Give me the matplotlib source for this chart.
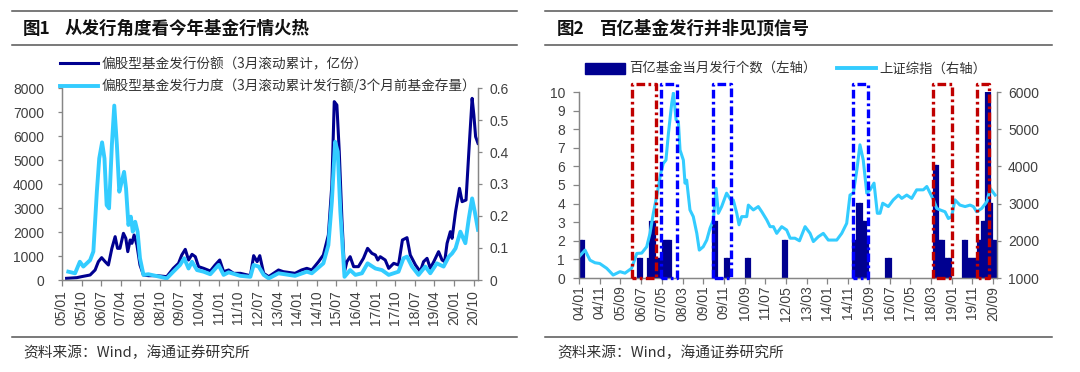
import matplotlib
matplotlib.use("Agg")
import matplotlib.pyplot as plt
from matplotlib.lines import Line2D
from matplotlib.patches import Patch
import numpy as np

# ---------------- data: figure 1 (months since 2005-01) ----------------
share_month = [2.1, 6.8, 9.0, 12.9, 15.2, 16.7, 18.2, 19.8, 21.3, 22.9, 24.4, 25.5, 26.6, 28.2, 29.3,
               30.2, 31.3, 32.1, 33.1, 34.4, 35.8, 37.4, 39.7, 43.6, 48.1, 51.1, 53.5, 55.0, 56.6, 58.1,
               59.7, 61.2, 62.7, 65.0, 68.1, 70.3, 72.4, 74.2, 76.5, 78.8, 81.9, 86.5, 88.0, 89.6, 90.8,
               92.6, 94.9, 99.4, 101.6, 107.0, 110.0, 112.4, 114.7, 117.8, 120.0, 122.3, 123.9, 125.0,
               126.2, 127.3, 128.5, 129.7, 130.8, 132.3, 133.9, 136.1, 138.4, 140.3, 142.3, 143.9, 145.0,
               146.1, 148.4, 150.0, 152.3, 154.5, 156.3, 158.4, 159.9, 162.3, 164.5, 166.0, 167.6, 169.1,
               170.7, 172.9, 174.5, 175.7, 176.8, 178.3, 179.1, 180.7, 182.5, 183.7, 185.5, 186.8, 188.3,
               189.1, 189.9, 191.0]
share_value = [70, 97, 140, 208, 417, 764, 931, 764, 625, 1319, 1806, 1319, 1319, 1944, 1736,
               1181, 1667, 1528, 1875, 1458, 625, 208, 180, 180, 140, 486, 694, 1042, 1278, 833,
               1069, 972, 556, 486, 375, 625, 833, 347, 417, 278, 278, 180, 1014, 764, 1014,
               278, 140, 417, 347, 278, 417, 486, 417, 764, 1042, 1875, 3958, 7431,
               7292, 5347, 2569, 347, 764, 972, 556, 556, 903, 1319, 1111, 1042, 833,
               972, 833, 486, 694, 625, 1667, 1764, 1042, 625, 347, 764, 903, 486,
               764, 1181, 833, 764, 1528, 2014, 1736, 2847, 3819, 3264, 3333, 5347, 7569,
               6875, 5972, 5694]

ratio_month = [2.9, 6.0, 8.2, 9.8, 12.9, 14.4, 16.0, 17.1, 18.4, 19.5, 20.5, 21.6, 22.9, 24.0, 25.2,
               26.3, 27.4, 28.5, 29.4, 30.5, 31.6, 32.5, 33.6, 34.7, 35.8, 37.4, 39.7, 45.0, 48.1,
               51.1, 54.2, 56.1, 58.1, 59.7, 62.0, 65.0, 68.1, 71.9, 74.2, 76.5, 81.9, 86.5, 88.0,
               90.3, 92.6, 94.9, 99.4, 107.0, 112.4, 114.7, 120.0, 122.3, 123.9, 125.4, 126.6, 127.8,
               129.7, 132.3, 134.7, 137.7, 140.3, 143.9, 146.9, 150.0, 154.5, 156.8, 158.4, 160.7,
               163.7, 166.8, 169.1, 172.1, 175.2, 177.6, 179.1, 180.7, 182.9, 185.2, 186.8, 188.3,
               189.5, 191.0]
ratio_value = [0.026, 0.021, 0.057, 0.042, 0.062, 0.089, 0.276, 0.380, 0.430, 0.380, 0.234, 0.224, 0.422,
               0.545, 0.422, 0.276, 0.307, 0.338, 0.286, 0.172, 0.198, 0.151, 0.182, 0.151, 0.068, 0.016,
               0.018, 0.010, 0.005, 0.026, 0.047, 0.068, 0.036, 0.057, 0.031, 0.026, 0.018, 0.047, 0.016,
               0.024, 0.013, 0.010, 0.047, 0.042, 0.016, 0.005, 0.021, 0.013, 0.026, 0.021, 0.052, 0.109,
               0.245, 0.432, 0.401, 0.214, 0.010, 0.031, 0.016, 0.021, 0.052, 0.036, 0.031, 0.016, 0.026,
               0.068, 0.073, 0.042, 0.016, 0.042, 0.021, 0.052, 0.042, 0.073, 0.083, 0.099, 0.151, 0.115,
               0.193, 0.255, 0.214, 0.157]

fig1_xticklabels = ["05/01", "05/10", "06/07", "07/04", "08/01", "08/10", "09/07", "10/04", "11/01",
                    "11/10", "12/07", "13/04", "14/01", "14/10", "15/07", "16/04", "17/01", "17/10",
                    "18/07", "19/04", "20/01", "20/10"]
fig1_label_share = "偏股型基金发行份额（3月滚动累计，亿份）"
fig1_label_ratio = "偏股型基金发行力度（3月滚动累计发行额/3个月前基金存量）"

# ---------------- data: figure 2 (months since 2004-01) ----------------
bar_month = [1, 2, 29, 30, 34, 35, 36, 38, 39, 41, 42, 43, 44, 65, 66, 71, 72, 81, 82, 99, 100,
             133, 134, 135, 136, 137, 138, 139, 149, 150, 172, 173, 174, 175, 176, 177, 178, 179,
             186, 187, 188, 189, 190, 191, 192, 193, 194, 195, 196, 197, 198, 199, 200, 201]
bar_count = [2, 2, 1, 1, 1, 3, 3, 1, 1, 2, 2, 2, 2, 3, 3, 1, 1, 1, 1, 2, 2,
             2, 2, 4, 4, 3, 3, 2, 1, 1, 6, 6, 2, 2, 2, 1, 1, 1,
             2, 2, 1, 1, 1, 1, 1, 2, 2, 3, 3, 10, 10, 4, 2, 2]

sh_month = [0, 2.9, 5.3, 7.7, 10, 13.4, 16.5, 19.8, 22.2, 25.4, 27.9, 30.3, 32.7, 34.3, 35.9, 37.5,
            39.5, 40.7, 42, 43.2, 44.8, 45.6, 46.9, 48, 48.8, 50.4, 51.2, 52, 53.6, 55.2, 56.9, 58.1,
            60, 61.7, 63.3, 64.9, 66.2, 67.3, 68.9, 71.3, 73.3, 74.5, 76.2, 77.3, 78.6, 81, 81.8,
            84.2, 86.6, 88.3, 90.7, 92.3, 93.9, 95.5, 97.9, 100.3, 102, 104.3, 106.5, 109.2, 111.6,
            113.2, 115.6, 118, 120.4, 124.5, 126.9, 129.3, 130.9, 132.5, 134.2, 135.7, 137.3, 139,
            140.6, 142.5, 144.1, 145.4, 146.7, 149.4, 151.8, 154.3, 155.9, 158.3, 160.7, 163.1,
            166.3, 168, 169.6, 171.2, 172.8, 174.4, 176.8, 178.4, 180, 181.6, 184, 186.5, 188.9,
            190.5, 192.1, 194.5, 197, 198.6, 201]
sh_value = [1570, 1750, 1480, 1410, 1390, 1260, 1080, 1170, 1130, 1260, 1660, 1670, 1840, 2200, 2740,
            3190, 3820, 4080, 4170, 4890, 5700, 5970, 5250, 5200, 4440, 4170, 3550, 3630, 2830, 2650,
            2200, 1750, 1840, 2020, 2340, 2560, 3410, 2740, 2920, 3280, 3100, 3100, 2740, 2430, 2650,
            2650, 2960, 2830, 2920, 2780, 2560, 2380, 2380, 2200, 2380, 2290, 2070, 2070, 2000, 2380,
            2200, 1980, 2110, 2200, 2020, 2020, 2200, 2470, 3230, 3280, 3900, 4580, 4170, 3280, 3370,
            3550, 2740, 2740, 3010, 2920, 3100, 3230, 3140, 3230, 3140, 3370, 3370, 3460, 3280, 3100,
            2870, 2830, 2780, 2600, 2650, 3100, 2960, 2920, 2960, 2920, 2780, 2870, 3050, 3410, 3230]

fig2_xticklabels = ["04/01", "04/11", "05/09", "06/07", "07/05", "08/03", "09/01", "09/11", "10/09",
                    "11/07", "12/05", "13/03", "14/01", "14/11", "15/09", "16/07", "17/05", "18/03",
                    "19/01", "19/11", "20/09"]
red_box_start = [25.6, 171.0, 192.3]
red_box_end = [37.2, 180.0, 198.0]
blue_box_start = [39.6, 64.7, 132.4]
blue_box_end = [47.3, 73.4, 139.6]
box_top = 10.43
fig2_label_bar = "百亿基金当月发行个数（左轴）"
fig2_label_line = "上证综指（右轴）"

# ---------------- styling ----------------
NAVY = "#000090"
SKY = "#33CCFF"
RED = "#C00000"
BLUE = "#0000FF"
SPINE = "#868686"
TXT = "#404040"
CJK = ["Noto Sans CJK SC", "DejaVu Sans"]
LAT = ["Liberation Sans", "DejaVu Sans"]

W, H = 1080, 372
fig = plt.figure(figsize=(W / 100, H / 100), dpi=100)


def fx(px):
    return px / W


def fy(py):
    return 1 - py / H


def style_axes(ax, axr):
    for a in (ax, axr):
        a.spines["top"].set_visible(False)
        for s in ("left", "right", "bottom"):
            a.spines[s].set_color(SPINE)
            a.spines[s].set_linewidth(0.9)
        a.set_facecolor("none")
    for lab in ax.get_xticklabels() + ax.get_yticklabels() + axr.get_yticklabels():
        lab.set_fontfamily(LAT)
        lab.set_fontsize(10)
        lab.set_color(TXT)


# ---------- figure 1 ----------
ax1 = fig.add_axes([fx(62), fy(280), fx(478 - 62), (280 - 88) / H])
ax1r = ax1.twinx()
ax1.plot(share_month, share_value, color=NAVY, lw=2.2, solid_joinstyle="round")
ax1r.plot(ratio_month, ratio_value, color=SKY, lw=2.8, solid_joinstyle="round")
ax1.set_xlim(0, 191)
ax1.set_ylim(0, 8000)
ax1r.set_ylim(0, 0.6)
ax1.set_yticks(np.arange(0, 8001, 1000))
ax1r.set_yticks(np.arange(0, 0.61, 0.1))
ax1r.set_yticklabels(["0", "0.1", "0.2", "0.3", "0.4", "0.5", "0.6"])
ax1.set_xticks(np.arange(0, 190, 9))
ax1.set_xticklabels(fig1_xticklabels, rotation=90)
ax1.tick_params(axis="x", direction="out", length=4, width=0.9, color=SPINE, pad=3.5)
ax1.tick_params(axis="y", direction="out", length=3, width=0.9, color=SPINE, pad=10)
ax1r.tick_params(axis="y", direction="out", length=3, width=0.9, color=SPINE, pad=5)
style_axes(ax1, ax1r)

leg1 = fig.legend([Line2D([], [], color=NAVY, lw=2.2), Line2D([], [], color=SKY, lw=2.8)],
                  [fig1_label_share, fig1_label_ratio], loc="upper left",
                  bbox_to_anchor=(fx(60), fy(57)), frameon=False, borderpad=0, borderaxespad=0,
                  handlelength=2.8, handletextpad=0.25, labelspacing=0.55,
                  prop={"family": CJK, "size": 9.8})
for t in leg1.get_texts():
    t.set_color("#333333")

# ---------- figure 2 ----------
ax2 = fig.add_axes([fx(579), fy(278), fx(997 - 579), (278 - 92) / H])
ax2r = ax2.twinx()
ax2.bar(bar_month, bar_count, width=1.0, color=NAVY, edgecolor=NAVY, linewidth=1.6)
ax2r.plot(sh_month, sh_value, color=SKY, lw=2.2, solid_joinstyle="round")
ax2.set_xlim(0, 201.9)
ax2.set_ylim(0, 10)
ax2r.set_ylim(1000, 6000)
ax2.set_yticks(np.arange(0, 11, 1))
ax2r.set_yticks(np.arange(1000, 6001, 1000))
ax2.set_xticks(np.arange(0, 201, 10))
ax2.set_xticklabels(fig2_xticklabels, rotation=90)
ax2.tick_params(axis="x", direction="out", length=4, width=0.9, color=SPINE, pad=1.5)
ax2.tick_params(axis="y", direction="out", length=4, width=0.9, color=SPINE, pad=6)
ax2r.tick_params(axis="y", direction="out", length=3, width=0.9, color=SPINE, pad=5)
style_axes(ax2, ax2r)

dash = (0, (2.6, 1.0, 0.8, 1.0))
for starts, ends, col in ((red_box_start, red_box_end, RED), (blue_box_start, blue_box_end, BLUE)):
    for x0, x1 in zip(starts, ends):
        ax2r.plot([x0, x0, x1, x1, x0], [0, box_top, box_top, 0, 0], color=col, lw=2.4,
                  linestyle=dash, transform=ax2.transData, clip_on=False, zorder=5)

leg2a = fig.legend([Patch(facecolor=NAVY, edgecolor=NAVY)], [fig2_label_bar], loc="upper left",
                   bbox_to_anchor=(fx(585), fy(62)), frameon=False, borderpad=0, borderaxespad=0,
                   handlelength=3.0, handleheight=0.85, handletextpad=0.3,
                   prop={"family": CJK, "size": 9.6})
leg2b = fig.legend([Line2D([], [], color=SKY, lw=2.8)], [fig2_label_line], loc="upper left",
                   bbox_to_anchor=(fx(837), fy(62)), frameon=False, borderpad=0, borderaxespad=0,
                   handlelength=2.9, handletextpad=0.3,
                   prop={"family": CJK, "size": 9.6})
for lg in (leg2a, leg2b):
    for t in lg.get_texts():
        t.set_color("#333333")

# ---------- titles, rules, footers ----------
for (x0, x1) in ((12, 517), (545, 1052)):
    for yy in (11, 45, 337):
        fig.add_artist(Line2D([fx(x0), fx(x1)], [fy(yy), fy(yy)], transform=fig.transFigure,
                              color="#555555", lw=1.1))

fig.text(fx(23), fy(28.5), "图1", family=CJK, fontsize=12.6, weight="bold", va="center", color="#111111")
fig.text(fx(65), fy(28.5), "从发行角度看今年基金行情火热", family=CJK, fontsize=12.6, weight="bold",
         va="center", color="#111111")
fig.text(fx(557), fy(28.5), "图2", family=CJK, fontsize=12.6, weight="bold", va="center", color="#111111")
fig.text(fx(600), fy(28.5), "百亿基金发行并非见顶信号", family=CJK, fontsize=12.6, weight="bold",
         va="center", color="#111111")
fig.text(fx(23), fy(353), "资料来源：Wind，海通证券研究所", family=CJK, fontsize=10.6, va="center",
         color="#333333")
fig.text(fx(557), fy(353), "资料来源：Wind，海通证券研究所", family=CJK, fontsize=10.6, va="center",
         color="#333333")

fig.savefig("out.png", dpi=100)
